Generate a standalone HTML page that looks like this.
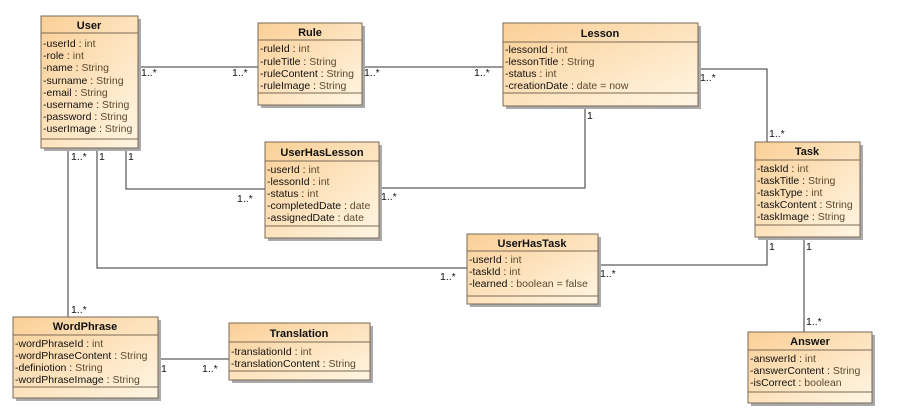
<!DOCTYPE html>
<html><head><meta charset="utf-8"><style>
html,body{margin:0;padding:0;background:#fff;width:904px;height:412px;overflow:hidden}
svg text{font-family:"Liberation Sans",sans-serif;font-size:10.5px;fill:#111}
.h{font-weight:bold;font-size:11px;text-anchor:middle}
.t{fill:#5a4a30}
</style></head><body>
<svg width="904" height="412" xmlns="http://www.w3.org/2000/svg">
<defs>
<linearGradient id="g" x1="0" y1="0" x2="1" y2="1"><stop offset="0" stop-color="#fbcf96"/><stop offset="1" stop-color="#fff6e4"/></linearGradient>
</defs>
<g stroke="#333" stroke-width="1" fill="none">
<path d="M138 67H258"/><path d="M362 67H503"/>
<path d="M698 69H767V142"/>
<path d="M585 106V188H379"/>
<path d="M126 148V189H265"/>
<path d="M97 148V268H467"/>
<path d="M68 148V317"/>
<path d="M158 359H229"/>
<path d="M767 237V265H598"/>
<path d="M804 237V332"/>
</g>
<g stroke="#7a6a55" stroke-width="1">
<rect x="44" y="19" width="97" height="132" fill="#aaa" stroke="none"/>
<rect x="41" y="16" width="97" height="132" fill="url(#g)"/>
<path d="M41 33H138M41 139H138"/>
<rect x="261" y="26" width="104" height="82" fill="#aaa" stroke="none"/>
<rect x="258" y="23" width="104" height="82" fill="url(#g)"/>
<path d="M258 40H362M258 93H362"/>
<rect x="506" y="26" width="195" height="83" fill="#aaa" stroke="none"/>
<rect x="503" y="23" width="195" height="83" fill="url(#g)"/>
<path d="M503 42H698M503 93H698"/>
<rect x="758" y="145" width="105" height="95" fill="#aaa" stroke="none"/>
<rect x="755" y="142" width="105" height="95" fill="url(#g)"/>
<path d="M755 160H860M755 225H860"/>
<rect x="268" y="145" width="114" height="96" fill="#aaa" stroke="none"/>
<rect x="265" y="142" width="114" height="96" fill="url(#g)"/>
<path d="M265 161H379M265 226H379"/>
<rect x="470" y="237" width="131" height="70" fill="#aaa" stroke="none"/>
<rect x="467" y="234" width="131" height="70" fill="url(#g)"/>
<path d="M467 251H598M467 296H598"/>
<rect x="16" y="320" width="145" height="81" fill="#aaa" stroke="none"/>
<rect x="13" y="317" width="145" height="81" fill="url(#g)"/>
<path d="M13 335H158M13 387H158"/>
<rect x="232" y="326" width="141" height="57" fill="#aaa" stroke="none"/>
<rect x="229" y="323" width="141" height="57" fill="url(#g)"/>
<path d="M229 342H370M229 371H370"/>
<rect x="751" y="335" width="124" height="71" fill="#aaa" stroke="none"/>
<rect x="748" y="332" width="124" height="71" fill="url(#g)"/>
<path d="M748 350H872M748 392H872"/>
</g>
<text class="h" x="89" y="29">User</text>
<text class="h" x="310" y="36">Rule</text>
<text class="h" x="600" y="37">Lesson</text>
<text class="h" x="807" y="155">Task</text>
<text class="h" x="322" y="156">UserHasLesson</text>
<text class="h" x="532" y="247">UserHasTask</text>
<text class="h" x="85" y="330">WordPhrase</text>
<text class="h" x="299" y="337">Translation</text>
<text class="h" x="810" y="345">Answer</text>

<text x="43" y="47">-userId : <tspan class="t">int</tspan></text>
<text x="43" y="59">-role : <tspan class="t">int</tspan></text>
<text x="43" y="71">-name : <tspan class="t">String</tspan></text>
<text x="43" y="84">-surname : <tspan class="t">String</tspan></text>
<text x="43" y="96">-email : <tspan class="t">String</tspan></text>
<text x="43" y="108">-username : <tspan class="t">String</tspan></text>
<text x="43" y="120">-password : <tspan class="t">String</tspan></text>
<text x="43" y="132">-userImage : <tspan class="t">String</tspan></text>

<text x="260" y="52">-ruleId : <tspan class="t">int</tspan></text>
<text x="260" y="65">-ruleTitle : <tspan class="t">String</tspan></text>
<text x="260" y="77">-ruleContent : <tspan class="t">String</tspan></text>
<text x="260" y="89">-ruleImage : <tspan class="t">String</tspan></text>

<text x="505" y="53">-lessonId : <tspan class="t">int</tspan></text>
<text x="505" y="65">-lessonTitle : <tspan class="t">String</tspan></text>
<text x="505" y="77">-status : <tspan class="t">int</tspan></text>
<text x="505" y="89">-creationDate : <tspan class="t">date = now</tspan></text>

<text x="757" y="172">-taskId : <tspan class="t">int</tspan></text>
<text x="757" y="184">-taskTitle : <tspan class="t">String</tspan></text>
<text x="757" y="196">-taskType : <tspan class="t">int</tspan></text>
<text x="757" y="208">-taskContent : <tspan class="t">String</tspan></text>
<text x="757" y="220">-taskImage : <tspan class="t">String</tspan></text>

<text x="267" y="173">-userId : <tspan class="t">int</tspan></text>
<text x="267" y="185">-lessonId : <tspan class="t">int</tspan></text>
<text x="267" y="197">-status : <tspan class="t">int</tspan></text>
<text x="267" y="209">-completedDate : <tspan class="t">date</tspan></text>
<text x="267" y="221">-assignedDate : <tspan class="t">date</tspan></text>

<text x="469" y="263">-userId : <tspan class="t">int</tspan></text>
<text x="469" y="275">-taskId : <tspan class="t">int</tspan></text>
<text x="469" y="287">-learned : <tspan class="t">boolean = false</tspan></text>

<text x="15" y="347">-wordPhraseId : <tspan class="t">int</tspan></text>
<text x="15" y="359">-wordPhraseContent : <tspan class="t">String</tspan></text>
<text x="15" y="371">-definiotion : <tspan class="t">String</tspan></text>
<text x="15" y="383">-wordPhraseImage : <tspan class="t">String</tspan></text>

<text x="231" y="355">-translationId : <tspan class="t">int</tspan></text>
<text x="231" y="367">-translationContent : <tspan class="t">String</tspan></text>

<text x="750" y="362">-answerId : <tspan class="t">int</tspan></text>
<text x="750" y="374">-answerContent : <tspan class="t">String</tspan></text>
<text x="750" y="386">-isCorrect : <tspan class="t">boolean</tspan></text>

<text x="141" y="76">1..*</text><text x="232" y="76">1..*</text>
<text x="364" y="76">1..*</text><text x="474" y="76">1..*</text>
<text x="700" y="81">1..*</text><text x="769" y="137">1..*</text>
<text x="587" y="119">1</text><text x="381" y="200">1..*</text>
<text x="128" y="160">1</text><text x="237" y="202">1..*</text>
<text x="99" y="160">1</text><text x="440" y="280">1..*</text>
<text x="71" y="160">1..*</text><text x="71" y="313">1..*</text>
<text x="161" y="372">1</text><text x="202" y="372">1..*</text>
<text x="600" y="277">1..*</text><text x="769" y="250">1</text>
<text x="806" y="250">1</text><text x="806" y="325">1..*</text>
</svg>
</body></html>
